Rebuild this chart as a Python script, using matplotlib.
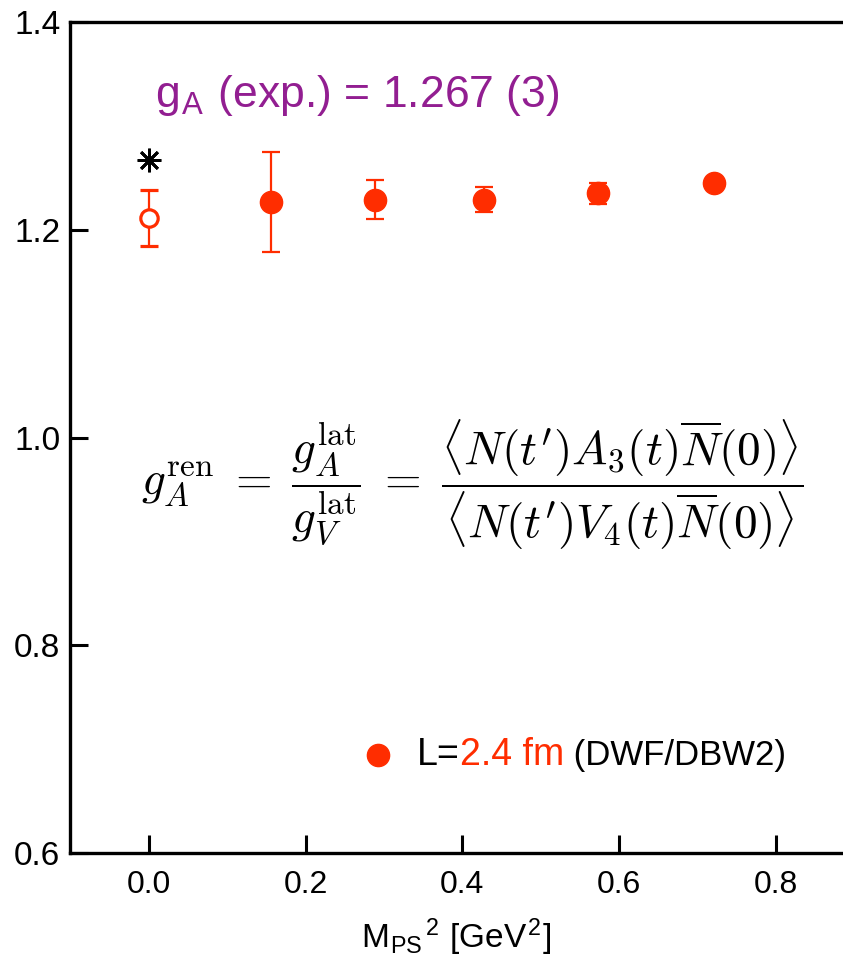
import matplotlib
matplotlib.use("Agg")
import matplotlib.pyplot as plt

# ---- data -------------------------------------------------------------
mps2 = [0.156, 0.288, 0.428, 0.573, 0.721]          # M_PS^2 [GeV^2]
ga = [1.227, 1.229, 1.229, 1.235, 1.245]             # g_A (lattice, renormalised)
ga_err = [0.048, 0.019, 0.012, 0.010, 0.005]

chiral_x = [0.0]                                     # chiral extrapolation
chiral_y = [1.211]
chiral_err = [0.027]

exp_x = [0.0]                                        # experiment
exp_y = [1.267]

xticks = [0.0, 0.2, 0.4, 0.6, 0.8]
yticks = [0.6, 0.8, 1.0, 1.2, 1.4]

RED = "#ff2d00"
PURPLE = "#921e91"
H = 965  # figure height in pixels

plt.rcParams["font.family"] = ["Liberation Sans", "DejaVu Sans"]
plt.rcParams["mathtext.fontset"] = "cm"

fig = plt.figure(figsize=(8.43, 9.65), dpi=100)
ax = fig.add_axes([70 / 843, 1 - 853 / H, 1 - 70 / 843, (853 - 22) / H])

ax.errorbar(mps2, ga, yerr=ga_err, fmt="o", color=RED, ms=16, elinewidth=1.6,
            capsize=6.5, capthick=1.6, zorder=3)
ax.errorbar(chiral_x, chiral_y, yerr=chiral_err, fmt="o", color=RED, mfc="white",
            mec=RED, ms=12.5, mew=2.3, elinewidth=1.6, capsize=6.5, capthick=1.6, zorder=3)
ax.plot(exp_x, exp_y, marker=(8, 2, 0), ls="none", color="black", ms=17, mew=2.0, zorder=3)

ax.set_xlim(-0.101, 0.886)
ax.set_ylim(0.6, 1.4)
ax.set_xticks(xticks)
ax.set_yticks(yticks)
ax.set_xticklabels([f"{v:.1f}" for v in xticks], fontsize=23)
ax.set_yticklabels([f"{v:.1f}" for v in yticks], fontsize=24)
ax.tick_params(axis="both", direction="in", length=13, width=2.2, pad=7)
ax.tick_params(axis="x", pad=12)
for side in ("left", "top", "bottom"):
    ax.spines[side].set_linewidth(2.4)
ax.spines["right"].set_visible(False)

ax.set_xlabel(r"M$_{\mathregular{PS}}$$^{\mathregular{2}}$ [GeV$^{\mathregular{2}}$]",
              fontsize=24, labelpad=12)

# experimental value
ax.text(155, H - 95, r"g$_{\mathregular{A}}$ (exp.) = 1.267 (3)", transform=None,
        fontsize=32, color=PURPLE, va="center", ha="left")

# ratio formula
ax.text(0.5 * (135 + 810), H - 485,
        r"$g_A^{\mathrm{ren}}\;=\;\dfrac{g_A^{\mathrm{lat}}}{g_V^{\mathrm{lat}}}"
        r"\;=\;\dfrac{\langle N(t^{\prime})A_3(t)\overline{N}(0)\rangle}"
        r"{\langle N(t^{\prime})V_4(t)\overline{N}(0)\rangle}$",
        transform=None, fontsize=34, ha="center", va="center", color="black")

# legend entry
ax.plot([378], [H - 755], marker="o", ms=16, color=RED, ls="none",
        transform=None, clip_on=False)
t1 = ax.text(417, H - 755, "L=", transform=None, fontsize=27, va="center", ha="left")
t2 = ax.annotate("2.4 fm", xy=(1, 0.5), xycoords=t1, va="center", ha="left",
                 fontsize=27, color=RED)
t3 = ax.annotate(" (DWF/DBW2)", xy=(1, 0.5), xycoords=t2, va="center", ha="left",
                 fontsize=25, color="black")

fig.savefig("out.png", dpi=100)
